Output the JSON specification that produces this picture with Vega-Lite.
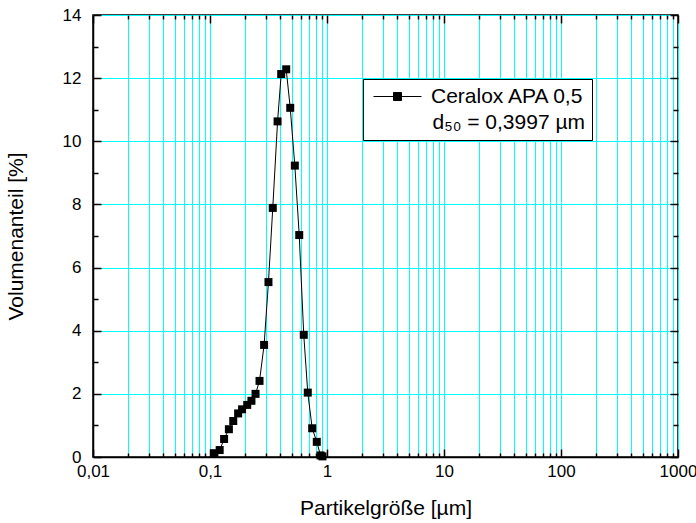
{
  "$schema": "https://vega.github.io/schema/vega-lite/v6.json",
  "width": 585,
  "height": 442,
  "autosize": {"type": "none"},
  "padding": {"left": 93, "top": 15, "right": 18, "bottom": 66},
  "background": "white",
  "config": {
    "font": "Liberation Sans",
    "view": {"stroke": "black", "strokeWidth": 1.5},
    "axis": {
      "domainColor": "black",
      "domainWidth": 1.5,
      "tickColor": "black",
      "tickWidth": 1.5,
      "gridColor": "#00FFFF",
      "gridWidth": 1,
      "gridOpacity": 1,
      "labelColor": "black",
      "labelFontSize": 17,
      "titleColor": "black",
      "titleFontSize": 21,
      "titleFontWeight": "normal"
    }
  },
  "data": {
    "values": [
      {"size": 0.109, "vol": 0.12},
      {"size": 0.121, "vol": 0.22},
      {"size": 0.132, "vol": 0.57},
      {"size": 0.145, "vol": 0.88},
      {"size": 0.158, "vol": 1.14},
      {"size": 0.174, "vol": 1.38},
      {"size": 0.188, "vol": 1.51},
      {"size": 0.208, "vol": 1.65},
      {"size": 0.226, "vol": 1.78},
      {"size": 0.245, "vol": 2.0},
      {"size": 0.265, "vol": 2.41},
      {"size": 0.29, "vol": 3.55},
      {"size": 0.316, "vol": 5.54},
      {"size": 0.344, "vol": 7.89},
      {"size": 0.378, "vol": 10.63},
      {"size": 0.406, "vol": 12.13},
      {"size": 0.448, "vol": 12.28},
      {"size": 0.485, "vol": 11.06},
      {"size": 0.531, "vol": 9.23},
      {"size": 0.579, "vol": 7.03},
      {"size": 0.633, "vol": 3.87},
      {"size": 0.685, "vol": 2.04},
      {"size": 0.747, "vol": 0.91},
      {"size": 0.818, "vol": 0.48},
      {"size": 0.88, "vol": 0.05},
      {"size": 0.915, "vol": 0.02}
    ]
  },
  "layer": [
    {
      "mark": {
        "type": "line",
        "strokeWidth": 1,
        "point": {"shape": "square", "size": 64, "filled": true, "opacity": 1}
      },
      "encoding": {
        "x": {
          "field": "size",
          "type": "quantitative",
          "scale": {"type": "log", "domain": [0.01, 1000], "nice": false},
          "axis": {
            "orient": "bottom",
            "title": "Partikelgröße [µm]",
            "titlePadding": 14,
            "values": [0.01,0.02,0.03,0.04,0.05,0.06,0.07,0.08,0.09,0.1,0.2,0.3,0.4,0.5,0.6,0.7,0.8,0.9,1,2,3,4,5,6,7,8,9,10,20,30,40,50,60,70,80,90,100,200,300,400,500,600,700,800,900,1000],
            "labelExpr": "indexof([0.01,0.1,1,10,100,1000], datum.value) >= 0 ? replace(format(datum.value, '~g'), '.', ',') : ''",
            "tickSize": {"condition": {"test": "indexof([0.01,0.1,1,10,100,1000], datum.value) >= 0", "value": -8}, "value": -4},
            "labelPadding": 14,
            "labelOverlap": false,
            "labelFlush": false
          }
        },
        "y": {
          "field": "vol",
          "type": "quantitative",
          "scale": {"domain": [0, 14], "nice": false},
          "axis": {
            "orient": "left",
            "title": "Volumenanteil [%]",
            "titlePadding": 36,
            "values": [0,1,2,3,4,5,6,7,8,9,10,11,12,13,14],
            "labelExpr": "datum.value % 2 == 0 ? datum.label : ''",
            "tickSize": {"condition": {"test": "datum.value % 2 == 0", "value": -8}, "value": -5},
            "gridOpacity": {"condition": {"test": "datum.value % 2 == 0", "value": 1}, "value": 0},
            "labelPadding": 20,
            "labelOverlap": false
          }
        },
        "color": {
          "datum": "Ceralox APA 0,5",
          "scale": {"range": ["black"]},
          "legend": {
            "orient": "none",
            "legendX": 270,
            "legendY": 64,
            "title": "d₅₀ = 0,3997 µm",
            "titleOrient": "bottom",
            "titleAnchor": "end",
            "titleFontSize": 21,
            "titleFontWeight": "normal",
            "titleColor": "black",
            "titlePadding": 5,
            "labelFontSize": 21,
            "labelColor": "black",
            "labelLimit": 300,
            "labelOffset": 23,
            "symbolOffset": 17,
            "symbolType": "M-2.4,0H-0.4M0.4,0H2.4M-0.4,-0.4H0.4V0.4H-0.4Z",
            "symbolSize": 400,
            "symbolStrokeWidth": 1,
            "symbolFillColor": "black",
            "symbolStrokeColor": "black",
            "fillColor": "white",
            "strokeColor": "black",
            "padding": 7
          }
        }
      }
    },
    {
      "mark": {"type": "point", "opacity": 0},
      "encoding": {
        "x": {
          "field": "size",
          "type": "quantitative",
          "scale": {"type": "log", "domain": [0.01, 1000], "nice": false},
          "axis": {
            "orient": "top",
            "title": null,
            "labels": false,
            "grid": false,
            "domain": false,
            "values": [0.01,0.02,0.03,0.04,0.05,0.06,0.07,0.08,0.09,0.1,0.2,0.3,0.4,0.5,0.6,0.7,0.8,0.9,1,2,3,4,5,6,7,8,9,10,20,30,40,50,60,70,80,90,100,200,300,400,500,600,700,800,900,1000],
            "tickSize": {"condition": {"test": "indexof([0.01,0.1,1,10,100,1000], datum.value) >= 0", "value": -8}, "value": -4}
          }
        },
        "y": {
          "field": "vol",
          "type": "quantitative",
          "scale": {"domain": [0, 14], "nice": false},
          "axis": {
            "orient": "right",
            "title": null,
            "labels": false,
            "grid": false,
            "domain": false,
            "values": [0,1,2,3,4,5,6,7,8,9,10,11,12,13,14],
            "tickSize": {"condition": {"test": "datum.value % 2 == 0", "value": -8}, "value": -5}
          }
        }
      }
    }
  ],
  "resolve": {"axis": {"x": "independent", "y": "independent"}}
}
